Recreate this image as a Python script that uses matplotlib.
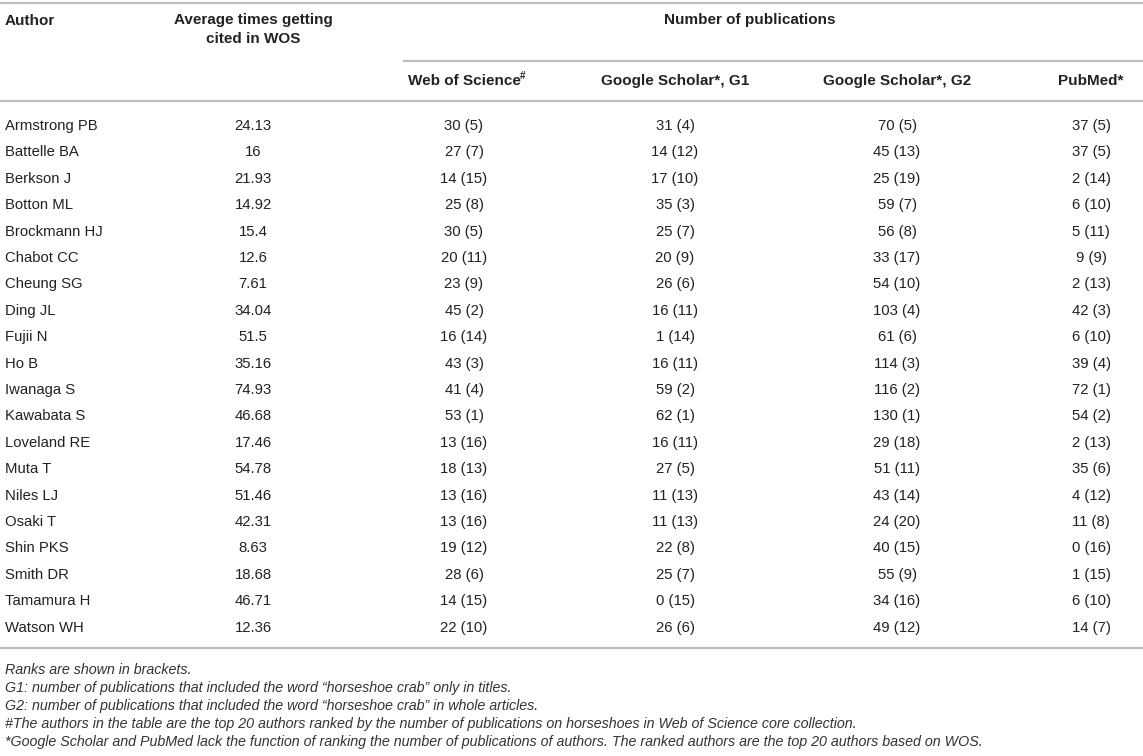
import matplotlib
matplotlib.use("Agg")
import matplotlib.pyplot as plt

authors = ["Armstrong PB", "Battelle BA", "Berkson J", "Botton ML", "Brockmann HJ",
           "Chabot CC", "Cheung SG", "Ding JL", "Fujii N", "Ho B", "Iwanaga S",
           "Kawabata S", "Loveland RE", "Muta T", "Niles LJ", "Osaki T", "Shin PKS",
           "Smith DR", "Tamamura H", "Watson WH"]
avg_cited = ["24.13", "16", "21.93", "14.92", "15.4", "12.6", "7.61", "34.04", "51.5",
             "35.16", "74.93", "46.68", "17.46", "54.78", "51.46", "42.31", "8.63",
             "18.68", "46.71", "12.36"]
wos_n = [30, 27, 14, 25, 30, 20, 23, 45, 16, 43, 41, 53, 13, 18, 13, 13, 19, 28, 14, 22]
wos_rank = [5, 7, 15, 8, 5, 11, 9, 2, 14, 3, 4, 1, 16, 13, 16, 16, 12, 6, 15, 10]
g1_n = [31, 14, 17, 35, 25, 20, 26, 16, 1, 16, 59, 62, 16, 27, 11, 11, 22, 25, 0, 26]
g1_rank = [4, 12, 10, 3, 7, 9, 6, 11, 14, 11, 2, 1, 11, 5, 13, 13, 8, 7, 15, 6]
g2_n = [70, 45, 25, 59, 56, 33, 54, 103, 61, 114, 116, 130, 29, 51, 43, 24, 40, 55, 34, 49]
g2_rank = [5, 13, 19, 7, 8, 17, 10, 4, 6, 3, 2, 1, 18, 11, 14, 20, 15, 9, 16, 12]
pub_n = [37, 37, 2, 6, 5, 9, 2, 42, 6, 39, 72, 54, 2, 35, 4, 11, 0, 1, 6, 14]
pub_rank = [5, 5, 14, 10, 11, 9, 13, 3, 10, 4, 1, 2, 13, 6, 12, 8, 16, 15, 10, 7]

sub_headers = ["Web of Science", "Google Scholar*, G1", "Google Scholar*, G2", "PubMed*"]
footnotes = [
    "Ranks are shown in brackets.",
    "G1: number of publications that included the word \u201chorseshoe crab\u201d only in titles.",
    "G2: number of publications that included the word \u201chorseshoe crab\u201d in whole articles.",
    "#The authors in the table are the top 20 authors ranked by the number of publications on horseshoes in Web of Science core collection.",
    "*Google Scholar and PubMed lack the function of ranking the number of publications of authors. The ranked authors are the top 20 authors based on WOS.",
]

plt.rcParams["font.family"] = ["Liberation Sans", "DejaVu Sans"]
W, H = 1143, 756
fig = plt.figure(figsize=(W / 100, H / 100), dpi=100)
ax = fig.add_axes([0, 0, 1, 1])
ax.set_xlim(0, W)
ax.set_ylim(H, 0)
ax.axis("off")

txt = "#222222"
line_c = "#bdbdbd"
fs = 10.7
hfs = 11
col_x = [253, 464, 675, 897, 1091]

# rules
ax.plot([0, W], [3, 3], color=line_c, lw=1.6)
ax.plot([404, W], [61, 61], color=line_c, lw=1.6)
ax.plot([0, W], [101, 101], color=line_c, lw=1.6)

# header
ax.text(5, 21, "Author", fontsize=hfs, fontweight="bold", color=txt, va="center")
ax.text(col_x[0], 20, "Average times getting", fontsize=hfs, fontweight="bold", color=txt,
        va="center", ha="center")
ax.text(col_x[0], 39, "cited in WOS", fontsize=hfs, fontweight="bold", color=txt,
        va="center", ha="center")
ax.text(750, 20, "Number of publications", fontsize=hfs, fontweight="bold", color=txt,
        va="center", ha="center")
for x, h in zip(col_x[1:], sub_headers):
    ax.text(x, 81, h, fontsize=hfs, fontweight="bold", color=txt, va="center", ha="center")
ax.text(col_x[1] + 56, 76, "#", fontsize=7, fontweight="bold", color=txt, va="center")

# body rows
y0, dy = 126, 26.4
for i, a in enumerate(authors):
    y = y0 + i * dy
    ax.text(5, y, a, fontsize=fs, color=txt, va="center")
    ax.text(col_x[0], y, avg_cited[i], fontsize=fs, color=txt, va="center", ha="center")
    cells = [(wos_n, wos_rank), (g1_n, g1_rank), (g2_n, g2_rank), (pub_n, pub_rank)]
    for x, (n, r) in zip(col_x[1:], cells):
        ax.text(x, y, f"{n[i]} ({r[i]})", fontsize=fs, color=txt, va="center", ha="center")

y_end = y0 + (len(authors) - 1) * dy + 20
ax.plot([0, W], [y_end, y_end], color=line_c, lw=1.6)

for k, f in enumerate(footnotes):
    ax.text(5, y_end + 22 + k * 18, f, fontsize=10.3, style="italic", color="#333333",
            va="center")

fig.savefig("out.png", dpi=100)
